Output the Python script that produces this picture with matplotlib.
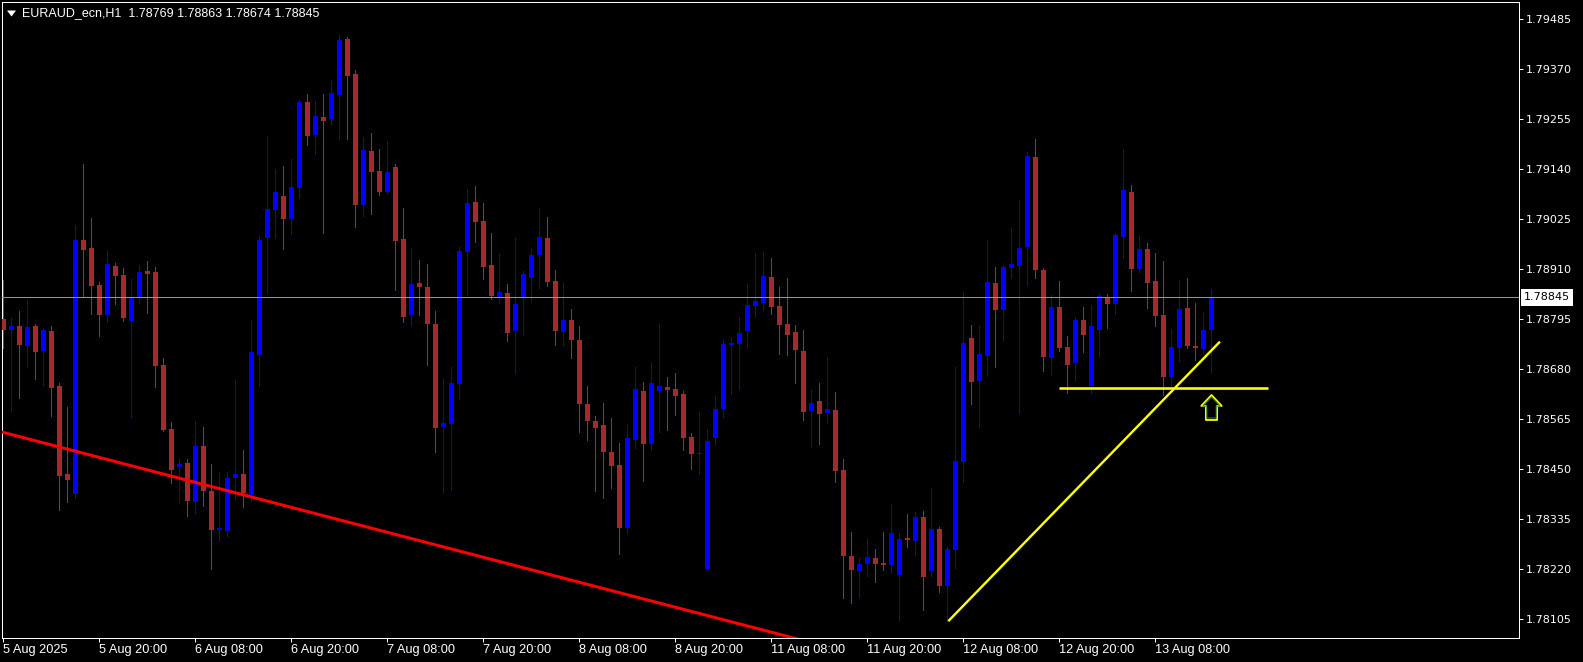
import matplotlib
matplotlib.use("Agg")
import matplotlib.pyplot as plt
import matplotlib.transforms as mtransforms
from matplotlib.lines import Line2D
from matplotlib.path import Path
import numpy as np

W, H, DPI = 1583, 662, 100

chart_title = "EURAUD_ecn,H1  1.78769 1.78863 1.78674 1.78845"

opens = [1.78795, 1.78770, 1.78779, 1.78733, 1.78779, 1.78721, 1.78767, 1.78641, 1.78439, 1.78393,
         1.78977, 1.78958, 1.78873, 1.78804, 1.78917, 1.78896, 1.78790, 1.78843, 1.78905, 1.78903,
         1.78689, 1.78542, 1.78455, 1.78464, 1.78374, 1.78503, 1.78399, 1.78310, 1.78307, 1.78429,
         1.78439, 1.78390, 1.78712, 1.78981, 1.79046, 1.79078, 1.79025, 1.79096, 1.79294, 1.79218,
         1.79260, 1.79255, 1.79310, 1.79439, 1.79359, 1.79057, 1.79181, 1.79135, 1.79087, 1.79145,
         1.78979, 1.78804, 1.78878, 1.78869, 1.78784, 1.78547, 1.78554, 1.78646, 1.78949, 1.79064,
         1.79020, 1.78919, 1.78846, 1.78855, 1.78767, 1.78843, 1.78889, 1.78942, 1.78981, 1.78882,
         1.78765, 1.78793, 1.78747, 1.78600, 1.78560, 1.78551, 1.78489, 1.78459, 1.78314, 1.78517,
         1.78629, 1.78508, 1.78629, 1.78639, 1.78634, 1.78623, 1.78524, 1.78485, 1.78220, 1.78521,
         1.78588, 1.78735, 1.78738, 1.78767, 1.78825, 1.78832, 1.78892, 1.78825, 1.78784, 1.78765,
         1.78721, 1.78583, 1.78606, 1.78579, 1.78586, 1.78448, 1.78250, 1.78215, 1.78232, 1.78245,
         1.78233, 1.78229, 1.78206, 1.78291, 1.78284, 1.78340, 1.78215, 1.78312, 1.78181, 1.78264,
         1.78466, 1.78751, 1.78652, 1.78710, 1.78878, 1.78816, 1.78912, 1.78917, 1.78961, 1.79168,
         1.78908, 1.78705, 1.78823, 1.78731, 1.78694, 1.78793, 1.78641, 1.78770, 1.78846, 1.78830,
         1.78984, 1.79087, 1.78910, 1.78956, 1.78882, 1.78804, 1.78662, 1.78728, 1.78820, 1.78733,
         1.78726, 1.78769]

highs = [1.78885, 1.78797, 1.78813, 1.78839, 1.78784, 1.78774, 1.78779, 1.78648, 1.78593, 1.79011,
         1.79152, 1.79027, 1.78880, 1.78951, 1.78924, 1.78912, 1.78887, 1.78919, 1.78928, 1.78915,
         1.78705, 1.78558, 1.78473, 1.78473, 1.78560, 1.78547, 1.78462, 1.78443, 1.78443, 1.78655,
         1.78494, 1.78793, 1.78986, 1.79216, 1.79140, 1.79147, 1.79163, 1.79299, 1.79313, 1.79296,
         1.79313, 1.79345, 1.79448, 1.79444, 1.79368, 1.79214, 1.79223, 1.79186, 1.79204, 1.79152,
         1.79050, 1.78958, 1.78931, 1.78922, 1.78813, 1.78657, 1.78685, 1.78961, 1.79094, 1.79101,
         1.79062, 1.78993, 1.78945, 1.78876, 1.78981, 1.78905, 1.78958, 1.79050, 1.79030, 1.78908,
         1.78878, 1.78818, 1.78779, 1.78641, 1.78572, 1.78602, 1.78567, 1.78510, 1.78554, 1.78685,
         1.78650, 1.78694, 1.78784, 1.78662, 1.78671, 1.78629, 1.78533, 1.78581, 1.78542, 1.78618,
         1.78747, 1.78754, 1.78800, 1.78876, 1.78947, 1.78949, 1.78935, 1.78869, 1.78889, 1.78781,
         1.78770, 1.78632, 1.78648, 1.78708, 1.78627, 1.78473, 1.78305, 1.78245, 1.78289, 1.78266,
         1.78305, 1.78370, 1.78303, 1.78347, 1.78351, 1.78353, 1.78406, 1.78317, 1.78271, 1.78685,
         1.78857, 1.78781, 1.78779, 1.78977, 1.78915, 1.78919, 1.79004, 1.79069, 1.79179, 1.79209,
         1.78912, 1.78850, 1.78882, 1.78756, 1.78800, 1.78823, 1.78827, 1.78853, 1.78853, 1.78993,
         1.79186, 1.79103, 1.78986, 1.78970, 1.78947, 1.78928, 1.78772, 1.78885, 1.78889, 1.78832,
         1.78811, 1.78863]

lows = [1.78728, 1.78583, 1.78613, 1.78685, 1.78657, 1.78643, 1.78572, 1.78356, 1.78374, 1.78383,
        1.78848, 1.78807, 1.78756, 1.78788, 1.78830, 1.78790, 1.78570, 1.78832, 1.78809, 1.78639,
        1.78537, 1.78418, 1.78372, 1.78342, 1.78349, 1.78365, 1.78220, 1.78287, 1.78296, 1.78381,
        1.78363, 1.78376, 1.78641, 1.78855, 1.78981, 1.78956, 1.78991, 1.79073, 1.79195, 1.79175,
        1.78993, 1.79244, 1.79209, 1.79209, 1.79007, 1.79032, 1.79037, 1.79080, 1.79085, 1.78862,
        1.78788, 1.78781, 1.78804, 1.78689, 1.78489, 1.78397, 1.78402, 1.78611, 1.78850, 1.78972,
        1.78887, 1.78841, 1.78832, 1.78744, 1.78671, 1.78758, 1.78836, 1.78866, 1.78871, 1.78735,
        1.78735, 1.78705, 1.78535, 1.78517, 1.78399, 1.78383, 1.78406, 1.78255, 1.78303, 1.78498,
        1.78422, 1.78494, 1.78535, 1.78540, 1.78574, 1.78494, 1.78450, 1.78439, 1.78215, 1.78508,
        1.78570, 1.78623, 1.78634, 1.78731, 1.78802, 1.78816, 1.78807, 1.78715, 1.78712, 1.78648,
        1.78563, 1.78501, 1.78508, 1.78556, 1.78420, 1.78153, 1.78142, 1.78156, 1.78204, 1.78190,
        1.78218, 1.78213, 1.78103, 1.78271, 1.78252, 1.78126, 1.78204, 1.78167, 1.78100, 1.78222,
        1.78420, 1.78600, 1.78547, 1.78666, 1.78685, 1.78747, 1.78889, 1.78579, 1.78873, 1.78889,
        1.78675, 1.78666, 1.78721, 1.78625, 1.78655, 1.78719, 1.78625, 1.78710, 1.78774, 1.78807,
        1.78935, 1.78859, 1.78903, 1.78820, 1.78779, 1.78620, 1.78639, 1.78698, 1.78728, 1.78701,
        1.78715, 1.78674]

closes = [1.78770, 1.78779, 1.78735, 1.78777, 1.78719, 1.78770, 1.78636, 1.78434, 1.78425, 1.78977,
          1.78954, 1.78871, 1.78804, 1.78922, 1.78894, 1.78797, 1.78846, 1.78903, 1.78899, 1.78687,
          1.78540, 1.78448, 1.78462, 1.78376, 1.78503, 1.78399, 1.78310, 1.78314, 1.78429, 1.78439,
          1.78395, 1.78719, 1.78977, 1.79048, 1.79087, 1.79025, 1.79099, 1.79294, 1.79216, 1.79262,
          1.79250, 1.79315, 1.79437, 1.79354, 1.79057, 1.79184, 1.79133, 1.79087, 1.79133, 1.78974,
          1.78800, 1.78876, 1.78869, 1.78784, 1.78544, 1.78556, 1.78648, 1.78951, 1.79062, 1.79018,
          1.78915, 1.78848, 1.78857, 1.78763, 1.78830, 1.78899, 1.78942, 1.78984, 1.78880, 1.78767,
          1.78793, 1.78747, 1.78600, 1.78560, 1.78544, 1.78489, 1.78457, 1.78314, 1.78521, 1.78634,
          1.78508, 1.78648, 1.78641, 1.78632, 1.78618, 1.78521, 1.78485, 1.78487, 1.78514, 1.78588,
          1.78738, 1.78740, 1.78763, 1.78827, 1.78836, 1.78894, 1.78823, 1.78781, 1.78758, 1.78724,
          1.78581, 1.78602, 1.78577, 1.78588, 1.78445, 1.78250, 1.78218, 1.78232, 1.78248, 1.78232,
          1.78230, 1.78303, 1.78289, 1.78287, 1.78340, 1.78202, 1.78312, 1.78181, 1.78266, 1.78468,
          1.78740, 1.78650, 1.78715, 1.78880, 1.78816, 1.78915, 1.78922, 1.78958, 1.79170, 1.78908,
          1.78708, 1.78823, 1.78728, 1.78689, 1.78793, 1.78758, 1.78779, 1.78848, 1.78830, 1.78988,
          1.79092, 1.78910, 1.78956, 1.78878, 1.78802, 1.78662, 1.78731, 1.78818, 1.78733, 1.78728,
          1.78770, 1.78845]

time_labels = ["5 Aug 2025", "5 Aug 20:00", "6 Aug 08:00", "6 Aug 20:00", "7 Aug 08:00",
               "7 Aug 20:00", "8 Aug 08:00", "8 Aug 20:00", "11 Aug 08:00", "11 Aug 20:00",
               "12 Aug 08:00", "12 Aug 20:00", "13 Aug 08:00"]
bars_per_label = 12

price_ticks = [1.79485, 1.79370, 1.79255, 1.79140, 1.79025, 1.78910, 1.78795,
               1.78680, 1.78565, 1.78450, 1.78335, 1.78220, 1.78105]
bid_price = 1.78845

# drawing objects (bar index, price)
red_trend_bars = [0, 98]
red_trend_prices = [1.78534, 1.78065]
yellow_trend_bars = [118.1, 152.06]
yellow_trend_prices = [1.78100, 1.78743]
yellow_level_bars = [131.9, 158.1]
yellow_level_price = 1.78636
arrow_bar = 151
arrow_price = 1.78593

BULL = "#0000FF"
BEAR = "#A52A2A"
PX = 72.0 / DPI  # one pixel in points

fig = plt.figure(figsize=(W / DPI, H / DPI), dpi=DPI, facecolor="black")
ax = fig.add_axes([2 / W, (H - 638) / H, (1519 - 2) / W, (638 - 2) / H])
ax.set_facecolor("black")

o = np.array(opens); h = np.array(highs); l = np.array(lows); c = np.array(closes)
n = len(o)
x = np.arange(n)
cols = np.where(c >= o, BULL, BEAR)

ax.vlines(x, l, h, colors=cols, linewidth=PX, antialiased=False, zorder=2)
body_bottom = np.minimum(o, c)
body_h = np.maximum(np.abs(c - o), 0.000023)
ax.bar(x, body_h, bottom=body_bottom, width=0.625, color=cols, linewidth=0,
       antialiased=False, zorder=3)

# bid line
ax.axhline(bid_price, color="#8C96A0", linewidth=PX, zorder=4)

# red trend ray
slope = (red_trend_prices[1] - red_trend_prices[0]) / (red_trend_bars[1] - red_trend_bars[0])
rx = np.array([-5, 120])
ax.plot(rx, red_trend_prices[0] + slope * (rx - red_trend_bars[0]), color="#FF0000",
        linewidth=3 * PX, solid_capstyle="butt", zorder=5)

# yellow lines
ax.plot(yellow_trend_bars, yellow_trend_prices, color="#FFFF00", linewidth=2.4 * PX,
        solid_capstyle="butt", zorder=5)
ax.plot(yellow_level_bars, [yellow_level_price] * 2, color="#FFFF00", linewidth=2.6 * PX,
        solid_capstyle="butt", zorder=5)

# up arrow marker
arrow_path = Path([(0, 12.65), (10.35, 1.65), (5.65, 1.65), (5.65, -12.65), (-5.65, -12.65),
                   (-5.65, 1.65), (-10.35, 1.65), (0, 12.65)], closed=True)
ax.plot([arrow_bar], [arrow_price], marker=arrow_path, markersize=25 * PX,
        markerfacecolor="black", markeredgecolor="#FFFF00", markeredgewidth=1.8 * PX, zorder=6)
ax.plot([arrow_bar], [arrow_price], marker=arrow_path, markersize=21 * PX,
        markerfacecolor="none", markeredgecolor="#2E8B2E", markeredgewidth=1.0 * PX, zorder=7)

ax.set_xlim(-0.1875, 189.44)
ax.set_ylim(1.780613, 1.795241)

for s in ax.spines.values():
    s.set_color("white")
    s.set_linewidth(PX)

ax.set_xticks(np.arange(0, n, bars_per_label))
ax.set_xticklabels(time_labels, fontfamily="Liberation Sans", fontsize=9.2, color="white", ha="left")
ax.tick_params(axis="x", colors="white", direction="out", length=3.5 * PX, width=PX, pad=1.5)

ax.yaxis.tick_right()
ax.set_yticks(price_ticks)
ax.set_yticklabels([f"{p:.5f}" for p in price_ticks], fontfamily="DejaVu Sans", fontsize=8,
                   color="white")
ax.tick_params(axis="y", colors="white", direction="out", length=3.5 * PX, width=PX, pad=3.5 * PX)

# bid price box
trans = mtransforms.blended_transform_factory(ax.transAxes, ax.transData)
trans = trans + mtransforms.ScaledTranslation(5 / DPI, 0, fig.dpi_scale_trans)
ax.text(1.0, bid_price, f"{bid_price:.5f}", transform=trans, ha="left", va="center",
        fontfamily="DejaVu Sans", fontsize=8, color="black", zorder=10, clip_on=False,
        bbox=dict(boxstyle="square,pad=0.3", facecolor="white", edgecolor="none"))

# title
tri_path = Path([(-4.5, 3), (4.5, 3), (0, -3), (-4.5, 3)], closed=True)
fig.add_artist(Line2D([10.5 / W], [1 - 13 / H], marker=tri_path, markersize=9 * PX,
                      color="white", markeredgewidth=0, transform=fig.transFigure))
fig.text(21.7 / W, 1 - 13.3 / H, chart_title, color="white", fontsize=9.0,
         fontfamily="Liberation Sans", ha="left", va="center")

fig.savefig("out.png", dpi=DPI, facecolor="black")
